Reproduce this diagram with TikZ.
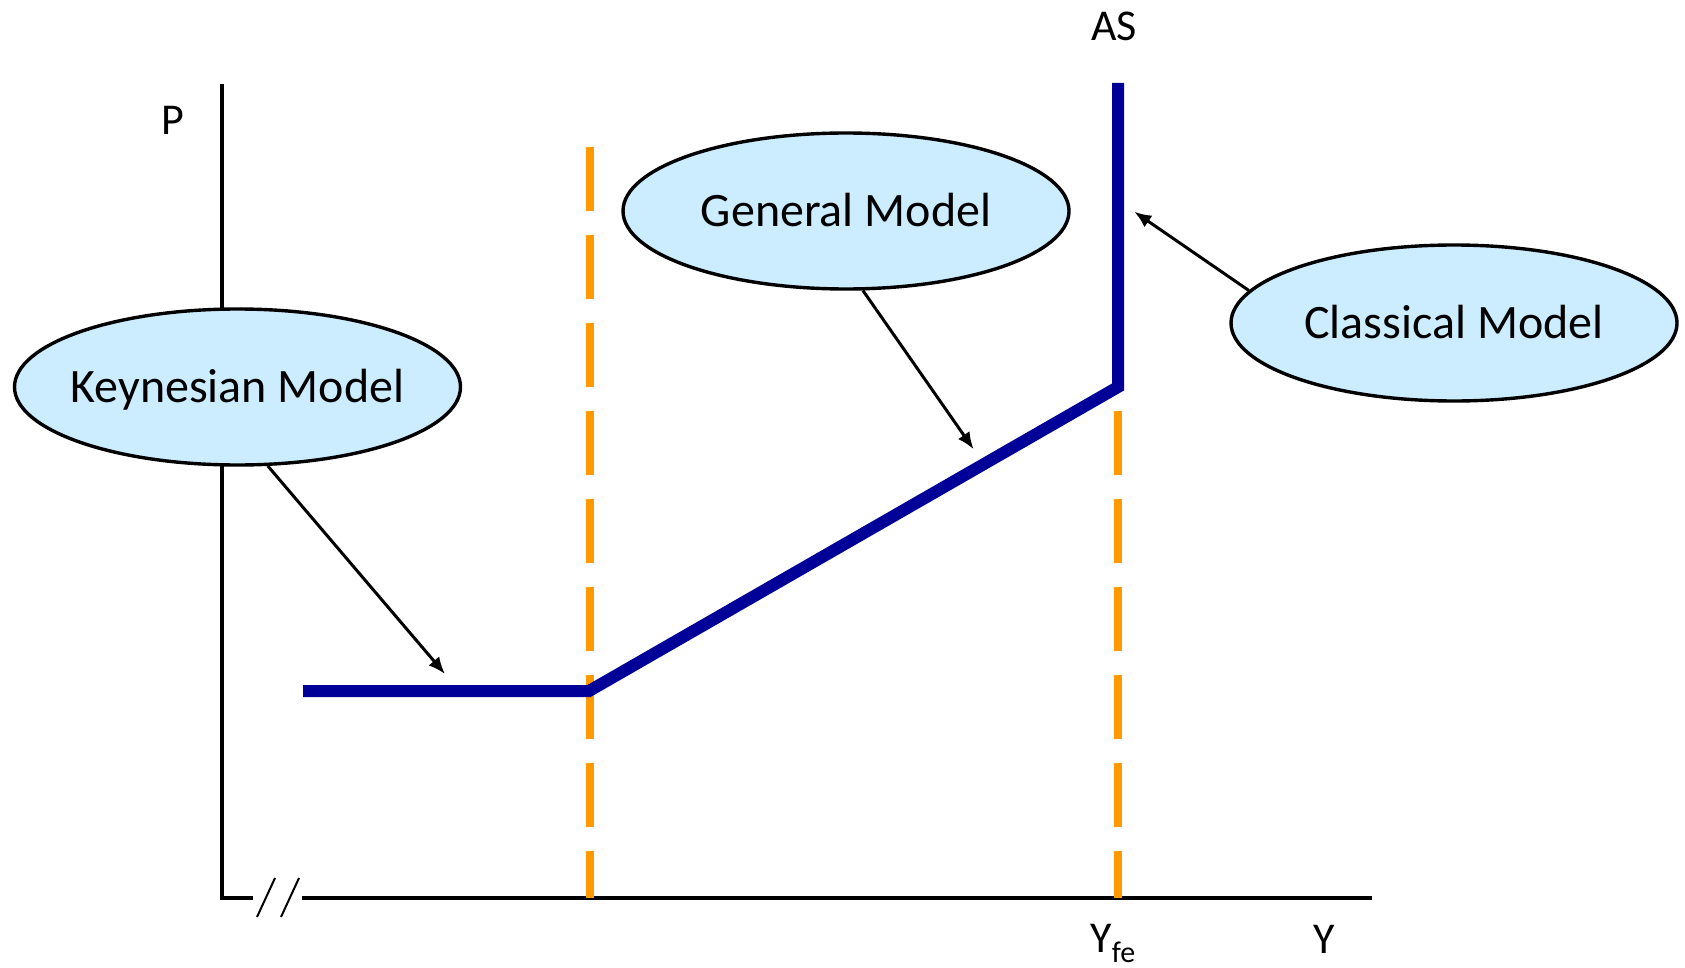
\documentclass[tikz,border=0pt]{standalone}
\usepackage{fontspec}
\setmainfont{Carlito}
\usetikzlibrary{shapes.geometric,arrows.meta}
\definecolor{asblue}{HTML}{000099}
\definecolor{dashorange}{HTML}{FF9900}
\definecolor{ellfill}{HTML}{CCECFF}
\begin{document}
\begin{tikzpicture}[x=0.5pt,y=-0.5pt,
  model/.style={ellipse,draw=black,line width=1.7pt,fill=ellfill,
    minimum width=223pt,minimum height=78pt,inner xsep=-20pt,inner ysep=0pt,
    text height=15.5pt,text depth=0pt,
    font=\fontsize{24}{28}\selectfont},
  axisline/.style={line width=1.6pt},
  guide/.style={dashorange,line width=4pt,dash pattern=on 32pt off 12pt},
  ascurve/.style={asblue,line width=6pt},
  pointer/.style={line width=1.5pt,-{Latex[length=8.5pt,width=7pt]}},
  lbl/.style={font=\fontsize{22}{26}\selectfont,inner sep=0pt}]
\useasboundingbox (0,0) rectangle (1685,968);
% axes
\coordinate (ytop) at (222,84);
\coordinate (o) at (222,898);
\coordinate (b1) at (253,898);
\coordinate (b2) at (302,898);
\coordinate (xend) at (1372,898);
\draw[axisline] (ytop) -- (o) -- (b1);
\draw[axisline] (b2) -- (xend);
\draw[line width=1pt] (257,917) -- (275,878) (281,917) -- (299,878);
% guides
\coordinate (g1a) at (590,146.7);
\coordinate (g1b) at (590,898);
\coordinate (g2a) at (1118,411);
\coordinate (g2b) at (1118,898);
\draw[guide] (g1a) -- (g1b);
\draw[guide] (g2a) -- (g2b);
% AS curve
\coordinate (c0) at (303,691);
\coordinate (c1) at (589,691);
\coordinate (c2) at (1118,387);
\coordinate (c3) at (1118,83);
\draw[ascurve] (c0) -- (c1) -- (c2) -- (c3);
% ellipses
\node[model] (key) at (237.5,387) {Keynesian Model};
\node[model] (gen) at (846,211) {General Model};
\node[model] (cla) at (1454,323) {Classical Model};
% arrows
\coordinate (kt) at (445,674);
\coordinate (gt) at (973.6,449.2);
\coordinate (ct) at (1134.3,211.7);
\draw[pointer] (key.-69) -- (kt);
\draw[pointer] (gen.-78) -- (gt);
\draw[pointer] (cla.171.6) -- (ct);
% labels
\node[lbl,anchor=base] (p) at (173,135) {P};
\node[lbl,anchor=base] (as) at (1114,40.7) {AS};
\node[lbl,anchor=base] (y) at (1324.5,953) {Y};
\node[lbl,anchor=base west] (yfe) at (1090,952) {Y\raisebox{-5pt}{\fontsize{15}{15}\selectfont fe}};
\end{tikzpicture}
\end{document}
